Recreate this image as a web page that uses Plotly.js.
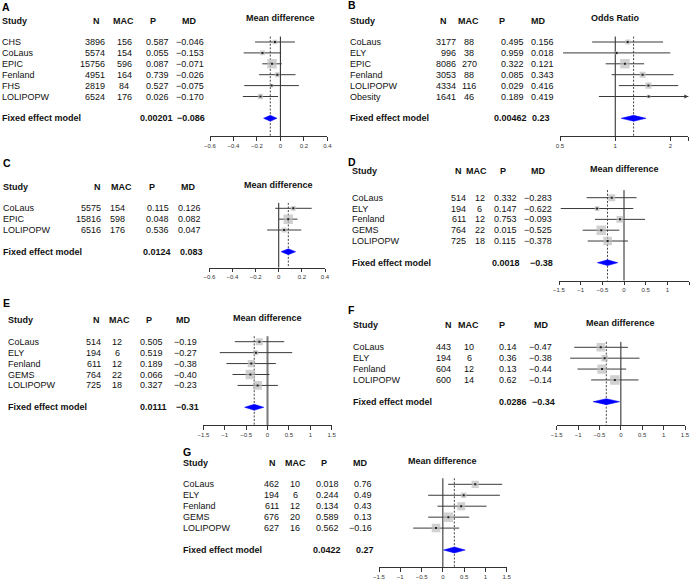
<!DOCTYPE html>
<html>
<head>
<meta charset="utf-8">
<script src="https://cdn.plot.ly/plotly-3.0.1.min.js"></script>
<style>html,body{margin:0;padding:0;background:#fff}#chart{width:693px;height:580px}</style>
</head>
<body>
<div id="chart"></div>
<script>
// ---------------- DATA ----------------
const studiesA = ["CHS","CoLaus","EPIC","Fenland","FHS","LOLIPOPW"];
const nA   = [3896,5574,15756,4951,2819,6524];
const macA = [156,154,596,164,84,176];
const pA   = ["0.587","0.055","0.087","0.739","0.527","0.026"];
const mdA  = [-0.046,-0.153,-0.071,-0.026,-0.075,-0.170];
const loA  = [-0.216,-0.313,-0.154,-0.181,-0.308,-0.320];
const hiA  = [0.124,0.007,0.012,0.129,0.158,-0.020];

const studiesB = ["CoLaus","ELY","EPIC","Fenland","LOLIPOPW","Obesity"];
const nB   = [3177,996,8086,3053,4334,1641];
const macB = [88,38,270,88,116,46];
const pB   = ["0.495","0.959","0.322","0.085","0.029","0.189"];
const mdB  = [0.156,0.018,0.121,0.343,0.416,0.419];      // log odds ratio
const loB  = [-0.290,-0.655,-0.120,-0.045,0.045,-0.205];
const hiB  = [0.600,0.690,0.362,0.731,0.790,1.040];

const studiesC = ["CoLaus","EPIC","LOLIPOPW"];
const nC   = [5575,15816,6516];
const macC = [154,598,176];
const pC   = ["0.115","0.048","0.536"];
const mdC  = [0.126,0.082,0.047];
const loC  = [-0.030,0.002,-0.100];
const hiC  = [0.285,0.162,0.195];

const studiesD = ["CoLaus","ELY","Fenland","GEMS","LOLIPOPW"];
const nD   = [514,194,611,764,725];
const macD = [12,6,12,22,18];
const pD   = ["0.332","0.147","0.753","0.015","0.115"];
const mdD  = [-0.283,-0.622,-0.093,-0.525,-0.378];
const loD  = [-0.862,-1.460,-0.669,-0.954,-0.838];
const hiD  = [0.292,0.215,0.485,-0.108,0.092];

const studiesE = ["CoLaus","ELY","Fenland","GEMS","LOLIPOPW"];
const nE   = [514,194,611,764,725];
const macE = [12,6,12,22,18];
const pE   = ["0.505","0.519","0.189","0.066","0.327"];
const mdE  = [-0.19,-0.27,-0.38,-0.40,-0.23];
const loE  = [-0.764,-1.115,-0.959,-0.818,-0.700];
const hiE  = [0.390,0.577,0.195,0.047,0.242];

const studiesF = ["CoLaus","ELY","Fenland","LOLIPOPW"];
const nF   = [443,194,604,600];
const macF = [10,6,12,14];
const pF   = ["0.14","0.36","0.13","0.62"];
const mdF  = [-0.47,-0.38,-0.44,-0.14];
const loF  = [-1.090,-1.185,-1.013,-0.694];
const hiF  = [0.164,0.436,0.125,0.413];

const studiesG = ["CoLaus","ELY","Fenland","GEMS","LOLIPOPW"];
const nG   = [462,194,611,676,627];
const macG = [10,6,12,20,16];
const pG   = ["0.018","0.244","0.134","0.589","0.562"];
const mdG  = [0.76,0.49,0.43,0.13,-0.16];
const loG  = [0.125,-0.345,-0.125,-0.345,-0.697];
const hiG  = [1.395,1.340,1.026,0.619,0.384];

// fixed effect model, panels A..G
const fixedP  = ["0.00201","0.00462","0.0124","0.0018","0.0111","0.0286","0.0422"];
const fixedMD = [-0.086,0.23,0.083,-0.38,-0.31,-0.34,0.27];
const fixedLo = [-0.143,0.074,0.020,-0.617,-0.535,-0.652,0.015];
const fixedHi = [-0.029,0.386,0.146,-0.143,-0.085,-0.028,0.525];

const ticksMD1 = [-0.6,-0.4,-0.2,0,0.2,0.4];
const tickTextMD1 = ["\u22120.6","\u22120.4","\u22120.2","0","0.2","0.4"];
const ticksMD2 = [-1.5,-1,-0.5,0,0.5,1,1.5];
const tickTextMD2 = ["\u22121.5","\u22121","\u22120.5","0","0.5","1","1.5"];
const ticksOR = [0.5,1,2,2.5];
const tickTextOR = ["0.5","1","2","2.5"];

// ---------------- PANELS ----------------
const panels = [
 {id:"A", s:studiesA, n:nA, mac:macA, p:pA, md:mdA, lo:loA, hi:hiA, dec:3, fdec:3, ticks:ticksMD1, tt:tickTextMD1, log:false, title:"Mean difference"},
 {id:"B", s:studiesB, n:nB, mac:macB, p:pB, md:mdB, lo:loB, hi:hiB, dec:3, fdec:2, ticks:ticksOR, tt:tickTextOR, log:true, title:"Odds Ratio"},
 {id:"C", s:studiesC, n:nC, mac:macC, p:pC, md:mdC, lo:loC, hi:hiC, dec:3, fdec:3, ticks:ticksMD1, tt:tickTextMD1, log:false, title:"Mean difference"},
 {id:"D", s:studiesD, n:nD, mac:macD, p:pD, md:mdD, lo:loD, hi:hiD, dec:3, fdec:2, ticks:ticksMD2, tt:tickTextMD2, log:false, title:"Mean difference"},
 {id:"E", s:studiesE, n:nE, mac:macE, p:pE, md:mdE, lo:loE, hi:hiE, dec:2, fdec:2, ticks:ticksMD2, tt:tickTextMD2, log:false, title:"Mean difference"},
 {id:"F", s:studiesF, n:nF, mac:macF, p:pF, md:mdF, lo:loF, hi:hiF, dec:2, fdec:2, ticks:ticksMD2, tt:tickTextMD2, log:false, title:"Mean difference"},
 {id:"G", s:studiesG, n:nG, mac:macG, p:pG, md:mdG, lo:loG, hi:hiG, dec:2, fdec:2, ticks:ticksMD2, tt:tickTextMD2, log:false, title:"Mean difference"}
];

// layout geometry (pixels)
const geom = [
 {letter:[1,6.7],   ttl:18.3, hdr:20.7, r1:42,    rF:118.3, ax:136,   x0:210,   x1:327.3, top:0.5,
  col:{study:1,   nR:106,   nH:96,    macC:124,   macH:123,   pC:157,   pH:152.5, pF:156,   mdR:205,   mdH:189,   mdF:191}},
 {letter:[346.7,5], ttl:18.3, hdr:20.7, r1:42,    rF:118.3, ax:136,   x0:560,   x1:688.3, top:0.5,
  col:{study:349, nR:456.7, nH:444,   macC:469,   macH:468,   pC:512,   pH:501.7, pF:510.5, mdR:555,   mdH:538.3, mdF:541}},
 {letter:[1.7,163.3], ttl:185, hdr:186.7, r1:208.3, rF:251.7, ax:267.7, x0:209.3, x1:325,   top:0.5,
  col:{study:1.7, nR:101.7, nH:97.5,  macC:117.5, macH:121,   pC:157.5, pH:151.5, pF:156.7, mdR:202,   mdH:188.3, mdF:191.7}},
 {letter:[346.7,161.7], ttl:169.3, hdr:170.7, r1:197.7, rF:262.7, ax:280.7, x0:559, x1:689, top:0.3,
  col:{study:350.5, nR:466.7, nH:458.5, macC:479.5, macH:476.5, pC:505,   pH:502.5, pF:506,   mdR:553,   mdH:538,   mdF:541}},
 {letter:[1.7,303.3], ttl:318.3, hdr:320, r1:341.7, rF:407.3, ax:425, x0:203.3, x1:331.7, top:0.5,
  col:{study:6.7, nR:101.7, nH:96.7,  macC:117,   macH:119.7, pC:151.3, pH:149,   pF:153.7, mdR:198.3, mdH:183,   mdF:187.5}},
 {letter:[346.7,310], ttl:323, hdr:325, r1:347.3, rF:401.7, ax:425, x0:556.7, x1:685, top:0.5,
  col:{study:351.7, nR:451.7, nH:448, macC:469,   macH:468,   pC:508,   pH:501.7, pF:512.5, mdR:553,   mdH:540.5, mdF:543}},
 {letter:[181.7,451.7], ttl:461, hdr:463.3, r1:484.3, rF:550, ax:567.3, x0:379, x1:506.7, top:0.45,
  col:{study:181.7, nR:280, nH:272, macC:295, macH:295, pC:327.5, pH:324, pF:327.3, mdR:373.3, mdH:360, mdF:365.3}}
];

// ---------------- BUILD ----------------
const W = 693, H = 580;
const px = v => v / W;
const py = v => 1 - v / H;
const FONT = "Liberation Sans, Arial, Helvetica, sans-serif";
const TXT = "#111";
function fmt(v, d) { return (v < 0 ? "\u2212" : "") + Math.abs(v).toFixed(d); }

const traces = [];
const annotations = [];
const layout = {
  width: W, height: H, margin: {l:0, r:0, t:0, b:0},
  paper_bgcolor: "#fff", plot_bgcolor: "rgba(0,0,0,0)",
  showlegend: false, font: {family: FONT, size: 9, color: TXT}
};

panels.forEach((P, i) => {
  const g = geom[i];
  const k = i === 0 ? "" : String(i + 1);
  const xr = "x" + k, yr = "y" + k;
  const nS = P.s.length;
  const step = (g.rF - g.r1) / (nS + 1);
  const rAxis = 1 + (g.ax - g.r1) / step;
  const topPx = g.r1 - 3 * step;
  const tx = v => P.log ? Math.exp(v) : v;
  const refVal = P.log ? 1 : 0;
  const rows = P.s.map((_, j) => j + 1);
  const fixRow = nS + 2;

  layout["xaxis" + k] = {
    domain: [px(g.x0), px(g.x1)], anchor: yr,
    type: P.log ? "log" : "linear",
    range: P.log ? [Math.log10(P.ticks[0]), Math.log10(P.ticks[P.ticks.length-1])] : [P.ticks[0], P.ticks[P.ticks.length-1]],
    tickmode: "array", tickvals: P.ticks, ticktext: P.tt,
    ticks: "outside", ticklen: 3.5, tickwidth: 1, tickcolor: "#333",
    showline: true, linecolor: "#333", linewidth: 1,
    showgrid: false, zeroline: false,
    tickfont: {family: FONT, size: 6, color: "#333"}, fixedrange: true
  };
  layout["yaxis" + k] = {
    domain: [py(g.ax), py(topPx)], anchor: xr,
    range: [rAxis, -2], visible: false, showgrid: false, zeroline: false, fixedrange: true
  };

  // reference line (no effect) and pooled-estimate dashed line
  const isE = P.id === "E";
  traces.push({type:"scatter", mode:"lines", xaxis:xr, yaxis:yr, hoverinfo:"skip",
    x:[refVal, refVal], y:[g.top, rAxis],
    line:{color: isE ? "#7a7a7a" : "#222", width: isE ? 2 : 1}});
  traces.push({type:"scatter", mode:"lines", xaxis:xr, yaxis:yr, hoverinfo:"skip",
    x:[tx(fixedMD[i]), tx(fixedMD[i])], y:[g.top, rAxis],
    line:{color:"#444", width:1, dash:"2px,1.6px"}});

  // CI lines
  const cx = [], cy = [];
  P.s.forEach((_, j) => { cx.push(tx(P.lo[j]), tx(P.hi[j]), null); cy.push(rows[j], rows[j], null); });
  traces.push({type:"scatter", mode:"lines", xaxis:xr, yaxis:yr, hoverinfo:"skip",
    x:cx, y:cy, line:{color:"#3a3a3a", width:1}});

  // boxes, sized by precision (inverse CI half-width)
  const hw = P.s.map((_, j) => (P.hi[j] - P.lo[j]) / 2);
  const minHw = Math.min(...hw);
  const sizes = hw.map(h => Math.max(3, 9.5 * minHw / h));
  traces.push({type:"scatter", mode:"markers", xaxis:xr, yaxis:yr, hoverinfo:"skip",
    x:P.md.map(tx), y:rows,
    marker:{symbol:"square", size:sizes, color:"#BDBDBD", line:{width:0}}});
  traces.push({type:"scatter", mode:"markers", xaxis:xr, yaxis:yr, hoverinfo:"skip",
    x:P.md.map(tx), y:rows,
    marker:{symbol:"square", size:2, color:"#222", line:{width:0}}});

  // diamond
  const h = 0.27;
  traces.push({type:"scatter", mode:"lines", xaxis:xr, yaxis:yr, hoverinfo:"skip", fill:"toself",
    x:[tx(fixedLo[i]), tx(fixedMD[i]), tx(fixedHi[i]), tx(fixedMD[i]), tx(fixedLo[i])],
    y:[fixRow, fixRow - h, fixRow, fixRow + h, fixRow],
    fillcolor:"#0000FF", line:{color:"#0000FF", width:0.5}});

  // arrow for CIs beyond the axis
  const maxTick = P.ticks[P.ticks.length - 1];
  P.s.forEach((_, j) => {
    if (tx(P.hi[j]) > maxTick) {
      annotations.push({xref:xr, yref:yr, x: P.log ? Math.log10(maxTick) : maxTick, y: rows[j],
        ax:-6, ay:0, axref:"pixel", ayref:"pixel", text:"", showarrow:true,
        arrowhead:2, arrowsize:0.8, arrowwidth:1, arrowcolor:"#3a3a3a"});
    }
  });

  // ----- text -----
  const c = g.col;
  const A = (o) => annotations.push(Object.assign({showarrow:false, yanchor:"middle", borderpad:0,
    font:{family:FONT, size:9, color:TXT}}, o));
  // panel letter
  A({xref:"paper", yref:"paper", x:px(g.letter[0]), y:py(g.letter[1]), xanchor:"left",
     text:"<b>" + P.id + "</b>", font:{family:FONT, size:10.5, color:"#000"}});
  // headers
  const hy = py(g.hdr);
  A({xref:"paper", yref:"paper", x:px(c.study), y:hy, xanchor:"left", text:"<b>Study</b>"});
  A({xref:"paper", yref:"paper", x:px(c.nH), y:hy, xanchor:"center", text:"<b>N</b>"});
  A({xref:"paper", yref:"paper", x:px(c.macH), y:hy, xanchor:"center", text:"<b>MAC</b>"});
  A({xref:"paper", yref:"paper", x:px(c.pH), y:hy, xanchor:"center", text:"<b>P</b>"});
  A({xref:"paper", yref:"paper", x:px(c.mdH), y:hy, xanchor:"center", text:"<b>MD</b>"});
  A({xref:xr, yref:"paper", x: P.log ? Math.log10(refVal) : refVal, y:py(g.ttl), xanchor:"center",
     text:"<b>" + P.title + "</b>"});
  // study rows
  P.s.forEach((name, j) => {
    const r = rows[j];
    A({xref:"paper", yref:yr, x:px(c.study), y:r, xanchor:"left", text:name});
    A({xref:"paper", yref:yr, x:px(c.nR), y:r, xanchor:"right", text:String(P.n[j])});
    A({xref:"paper", yref:yr, x:px(c.macC), y:r, xanchor:"center", text:String(P.mac[j])});
    A({xref:"paper", yref:yr, x:px(c.pC), y:r, xanchor:"center", text:P.p[j]});
    A({xref:"paper", yref:yr, x:px(c.mdR), y:r, xanchor:"right", text:fmt(P.md[j], P.dec)});
  });
  // fixed effect row
  A({xref:"paper", yref:yr, x:px(c.study), y:fixRow, xanchor:"left", text:"<b>Fixed effect model</b>"});
  A({xref:"paper", yref:yr, x:px(c.pF), y:fixRow, xanchor:"center", text:"<b>" + fixedP[i] + "</b>"});
  A({xref:"paper", yref:yr, x:px(c.mdF), y:fixRow, xanchor:"center", text:"<b>" + fmt(fixedMD[i], P.fdec) + "</b>"});
});

layout.annotations = annotations;
Plotly.newPlot("chart", traces, layout, {displayModeBar:false, staticPlot:true});
</script>
</body>
</html>
